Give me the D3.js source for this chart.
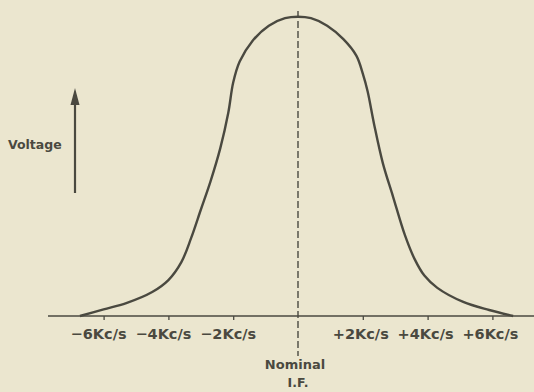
<!DOCTYPE html>
<html>
<head>
<meta charset="utf-8">
<script src="https://cdn.jsdelivr.net/npm/d3@7"></script>
<style>
  html, body { margin: 0; padding: 0; background: #ebe6cf; }
  svg { display: block; }
  text { font-family: "DejaVu Sans", sans-serif; fill: #4a4940; }
</style>
</head>
<body>
<svg id="chart" width="534" height="392"></svg>
<script>
// Frequency offset from nominal I.F. (Kc/s) and relative voltage (% of peak)
const freqKc = [-6.73, -6.0, -5.3, -4.5, -4.0, -3.6, -3.3, -3.0, -2.7, -2.4, -2.15, -2.0, -1.8, -1.4, -0.9, -0.4, 0,
                0.4, 0.9, 1.4, 1.8, 2.0, 2.15, 2.35, 2.62, 2.93, 3.3, 3.6, 3.9, 4.3, 5.1, 5.9, 6.64];
const voltage = [0, 2.2, 4.3, 8, 12, 18, 26, 35.5, 45, 56, 68, 78, 85, 92, 97, 99.5, 100,
                 99.5, 97, 92.5, 87, 81, 75, 64, 51, 40, 27, 19, 13.5, 9.4, 4.7, 2, 0];
const tickValues = [-6, -4, -2, 2, 4, 6];
const tickLabels = ["\u22126Kc/s", "\u22124Kc/s", "\u22122Kc/s", "+2Kc/s", "+4Kc/s", "+6Kc/s"];
const yLabel = "Voltage";
const centreLabel = ["Nominal", "I.F."];

const ink = "#4a4940";
const svg = d3.select("#chart");

const x = d3.scaleLinear().domain([-6, 6]).range([103.6, 492.4]);
const y = d3.scaleLinear().domain([0, 100]).range([316, 16.7]);

// Baseline with small downward ticks (no tick at the centre)
const axis = d3.axisBottom(x)
  .tickValues(tickValues)
  .tickSize(4)
  .tickFormat("");
const gAxis = svg.append("g").attr("transform", `translate(0,${y(0)})`).call(axis);
gAxis.select(".domain").remove();
gAxis.selectAll(".tick line").attr("stroke", ink).attr("stroke-width", 1.3);
svg.append("line")
  .attr("x1", 48).attr("x2", 534)
  .attr("y1", y(0)).attr("y2", y(0))
  .attr("stroke", ink).attr("stroke-width", 1.6);

// Tick labels, set slightly left of each tick
svg.append("g").selectAll("text")
  .data(tickValues)
  .join("text")
  .attr("x", (d) => x(d) - (d < 0 ? 5 : 2))
  .attr("y", 339)
  .attr("text-anchor", "middle")
  .attr("font-size", 14.5)
  .attr("font-weight", "bold")
  .text((d, i) => tickLabels[i]);

// Dashed centre line at nominal I.F.
svg.append("line")
  .attr("x1", x(0)).attr("x2", x(0))
  .attr("y1", 11).attr("y2", 356)
  .attr("stroke", ink).attr("stroke-width", 1.4)
  .attr("stroke-dasharray", "7,3");

svg.append("text")
  .attr("x", x(0) - 3).attr("y", 369)
  .attr("text-anchor", "middle").attr("font-size", 13).attr("font-weight", "bold")
  .text(centreLabel[0]);
svg.append("text")
  .attr("x", x(0)).attr("y", 387)
  .attr("text-anchor", "middle").attr("font-size", 12.5).attr("font-weight", "bold")
  .text(centreLabel[1]);

// Response curve
const pts = freqKc.map((f, i) => [f, voltage[i]]);
const line = d3.line()
  .x((d) => x(d[0]))
  .y((d) => y(d[1]))
  .curve(d3.curveCatmullRom.alpha(0.5));
svg.append("path")
  .datum(pts)
  .attr("d", line)
  .attr("fill", "none")
  .attr("stroke", ink)
  .attr("stroke-width", 2.4)
  .attr("stroke-linejoin", "round");

// Voltage arrow
svg.append("line")
  .attr("x1", 75).attr("x2", 75)
  .attr("y1", 193).attr("y2", 100)
  .attr("stroke", ink).attr("stroke-width", 2.2);
svg.append("path")
  .attr("d", d3.line()([[75, 88], [70.5, 105], [79.5, 105]]) + "Z")
  .attr("fill", ink);
svg.append("text")
  .attr("x", 8).attr("y", 149)
  .attr("font-size", 12.5).attr("font-weight", "bold")
  .text(yLabel);
</script>
</body>
</html>
